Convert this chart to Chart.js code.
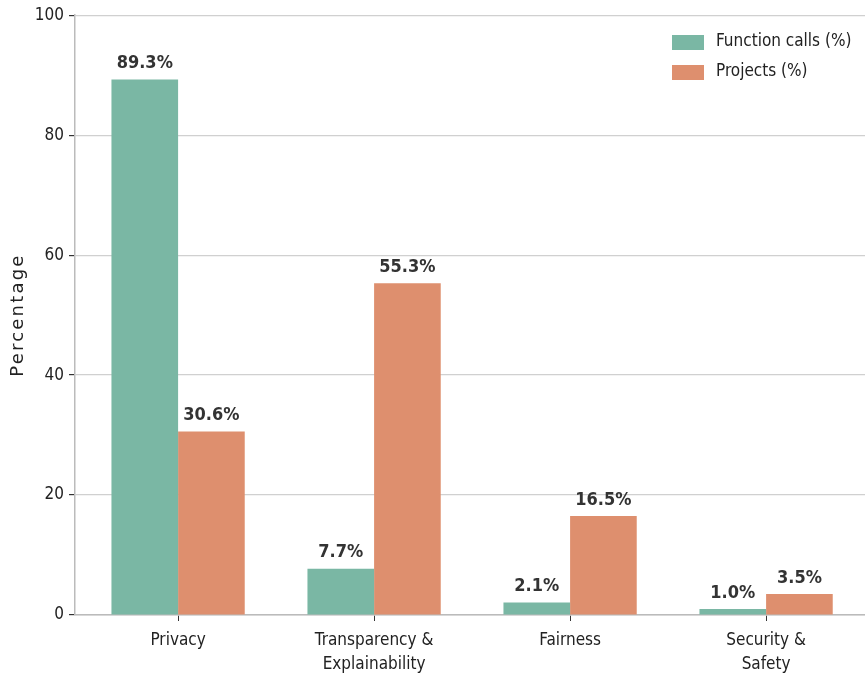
<!DOCTYPE html>
<html><head><meta charset="utf-8">
<script src="https://cdn.jsdelivr.net/npm/chart.js@4/dist/chart.umd.min.js"></script>
<style>html,body{margin:0;padding:0;background:#fff}#wrap{width:865px;height:677px}</style>
</head><body><div id="wrap"><canvas id="c" width="865" height="677"></canvas></div>
<script>
const categories = [["Privacy"], ["Transparency &", "Explainability"], ["Fairness"], ["Security &", "Safety"]];
const functionCalls = [89.3, 7.7, 2.1, 1.0];
const projects = [30.6, 55.3, 16.5, 3.5];
const seriesNames = ["Function calls (%)", "Projects (%)"];
const yTicks = [0, 20, 40, 60, 80, 100];

const FONT = "'DejaVu Sans Condensed', 'DejaVu Sans', sans-serif";
const GREEN = "rgb(122,183,164)";
const ORANGE = "rgb(222,143,110)";

const labelPlugin = {
  id: 'labels',
  afterLayout(chart) {
    const x = chart.scales.x;
    x._startValue = -0.526;
    x._valueRange = (x.right - x.left) / 196;
  },
  afterDatasetsDraw(chart) {
    const ctx = chart.ctx;
    ctx.save();
    ctx.font = "bold 18px " + FONT;
    ctx.fillStyle = "#333";
    ctx.textAlign = "center";
    ctx.textBaseline = "bottom";
    chart.data.datasets.forEach((ds, di) => {
      const meta = chart.getDatasetMeta(di);
      meta.data.forEach((bar, i) => {
        ctx.fillText(ds.data[i].toFixed(1) + "%", bar.x, bar.y - 7);
      });
    });
    // legend
    const items = chart.data.datasets;
    ctx.font = "17px " + FONT;
    ctx.textAlign = "left";
    ctx.textBaseline = "middle";
    items.forEach((ds, i) => {
      const y = 42 + i * 30;
      ctx.fillStyle = ds.backgroundColor;
      ctx.fillRect(672, y - 7, 32, 15);
      ctx.fillStyle = "#222";
      ctx.fillText(seriesNames[i], 716, y);
    });
    // y title
    const yc = (chart.chartArea.top + chart.chartArea.bottom) / 2;
    ctx.translate(18, yc);
    ctx.rotate(-Math.PI / 2);
    ctx.font = "18px 'DejaVu Sans', sans-serif";
    ctx.letterSpacing = "2.2px";
    ctx.textAlign = "center";
    ctx.fillStyle = "#222";
    ctx.fillText("Percentage", 0, 0);
    ctx.restore();
  }
};

new Chart(document.getElementById('c'), {
  type: 'bar',
  data: {
    labels: categories,
    datasets: [
      { label: seriesNames[0], data: functionCalls, backgroundColor: GREEN },
      { label: seriesNames[1], data: projects, backgroundColor: ORANGE }
    ]
  },
  options: {
    responsive: false,
    animation: false,
    layout: { padding: { top: 14, right: 0, left: 0, bottom: 0 } },
    datasets: { bar: { categoryPercentage: 0.68, barPercentage: 1.0 } },
    plugins: { legend: { display: false }, tooltip: { enabled: false } },
    scales: {
      x: {
        offset: true,
        grid: { drawOnChartArea: false, drawTicks: true, tickLength: 6, tickColor: "#333", offset: false },
        border: { color: "#bbb", width: 1.5 },
        ticks: { color: "#222", font: { family: FONT, size: 17, lineHeight: 1.4 }, padding: 8, maxRotation: 0 },
        afterFit(s) { s.height = 62; }
      },
      y: {
        min: 0, max: 100,
        afterBuildTicks(s) { s.ticks = yTicks.map(v => ({ value: v })); },
        grid: { color: "#d0d0d0", lineWidth: 1.2, tickLength: 6, tickColor: "#333" },
        border: { color: "#bbb", width: 1.5 },
        ticks: { color: "#222", font: { family: FONT, size: 17 }, padding: 5 },
        afterFit(s) { s.width = 75; }
      }
    }
  },
  plugins: [labelPlugin]
});
</script></body></html>
